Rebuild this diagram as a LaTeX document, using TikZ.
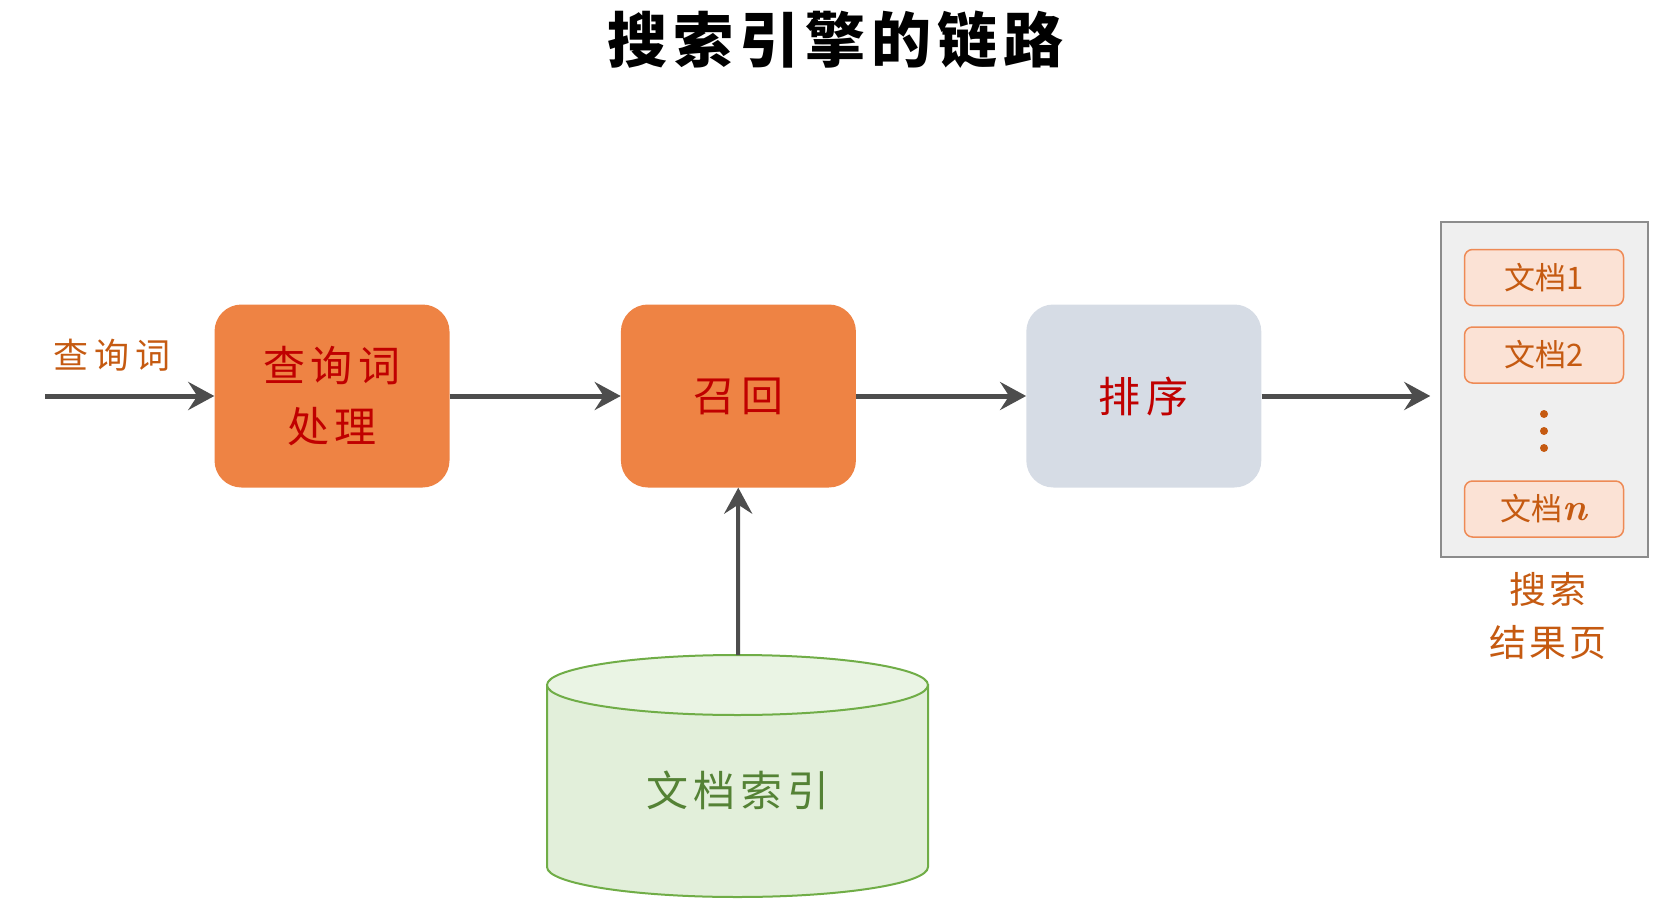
\documentclass[tikz,border=0pt]{standalone}
\usepackage{fontspec}
\newfontfamily\cjk{Noto Sans CJK SC}
\usetikzlibrary{arrows.meta,positioning}
\definecolor{boxorange}{HTML}{EE8344}
\definecolor{boxgray}{HTML}{D6DCE5}
\definecolor{textred}{HTML}{C00000}
\definecolor{textbrown}{HTML}{C55A11}
\definecolor{arrowgray}{HTML}{4D4D4D}
\definecolor{pagefill}{HTML}{EFEFEF}
\definecolor{pageline}{HTML}{8C8C8C}
\definecolor{docfill}{HTML}{FBE2D5}
\definecolor{docline}{HTML}{EE8A55}
\definecolor{idxfill}{HTML}{E2EFDA}
\definecolor{idxtopfill}{HTML}{EAF4E4}
\definecolor{idxline}{HTML}{70AD47}
\definecolor{idxtext}{HTML}{548235}
\newcommand{\cjkfont}[3]{\cjk\fontsize{#1}{#2}\selectfont\addfontfeature{LetterSpace=#3}}
\tikzset{
  stagebox/.style={rounded corners=27pt, minimum width=235pt, minimum height=183pt,
    inner sep=0pt, align=center, text=textred, font=\cjkfont{42}{61}{14}},
  docbox/.style={draw=docline, fill=docfill, line width=1.5pt, rounded corners=8pt,
    minimum width=159pt, minimum height=56pt, inner sep=0pt, text=textbrown,
    font=\cjkfont{31}{36}{0}},
  flow/.style={draw=arrowgray, line width=5pt,
    -{Stealth[length=26pt, width=28pt, inset=9pt]}},
}
\begin{document}
\begin{tikzpicture}[x=1pt, y=-1pt]
  \useasboundingbox (0,0) rectangle (1678,920);
  \node[font={\cjk\bfseries\fontsize{60}{66}\selectfont\addfontfeature{LetterSpace=10}}]
    (title) at (835,40) {搜索引擎的链路};

  % stages
  \node[stagebox, fill=boxorange] (query) at (332,396) {查询词\\处理};
  \node[stagebox, fill=boxorange, right=171pt of query] (recall) {召回};
  \node[stagebox, fill=boxgray, right=170pt of recall] (rank) {排序};

  \coordinate (qin) at (45,396);
  \node[font=\cjkfont{35}{40}{17}, text=textbrown] (qlabel) at (112,355) {查询词};

  % result page
  \node[draw=pageline, fill=pagefill, line width=1.5pt, minimum width=207pt,
    minimum height=335pt, inner sep=0pt] (serp) at (1544.5,389.5) {};
  \foreach \y/\name/\txt in {277.5/doc1/文档1, 355/doc2/文档2,
      509/docn/文档{\rmfamily\itshape\bfseries\fontsize{38}{36}\selectfont n}}
    \node[docbox] (\name) at (1544,\y) {\txt};
  \foreach \y in {414, 431, 448}
    \fill[textbrown] (1544,\y) circle[radius=4pt];
  \node[font=\cjkfont{37}{53}{8}, text=textbrown, align=center]
    (serplabel) at (1548,616) {搜索\\结果页};

  % document index
  \filldraw[draw=idxline, fill=idxfill, line width=2pt] (547,685) -- (547,867)
    arc[start angle=180, end angle=360, x radius=190.5pt, y radius=30pt]
    -- (928,685) -- cycle;
  \filldraw[draw=idxline, fill=idxtopfill, line width=2pt] (737.5,685)
    ellipse[x radius=190.5pt, y radius=30pt];
  \coordinate (idxtop) at (738,655);
  \node[font=\cjkfont{42}{50}{12}, text=idxtext] (index) at (738,790) {文档索引};

  % arrows
  \draw[flow] (qin) -- (query);
  \draw[flow] (query) -- (recall);
  \draw[flow] (recall) -- (rank);
  \draw[flow, shorten >=10pt] (rank) -- (rank.east -| serp.west);
  \draw[flow, line width=4pt] (idxtop) -- (recall);
\end{tikzpicture}
\end{document}
